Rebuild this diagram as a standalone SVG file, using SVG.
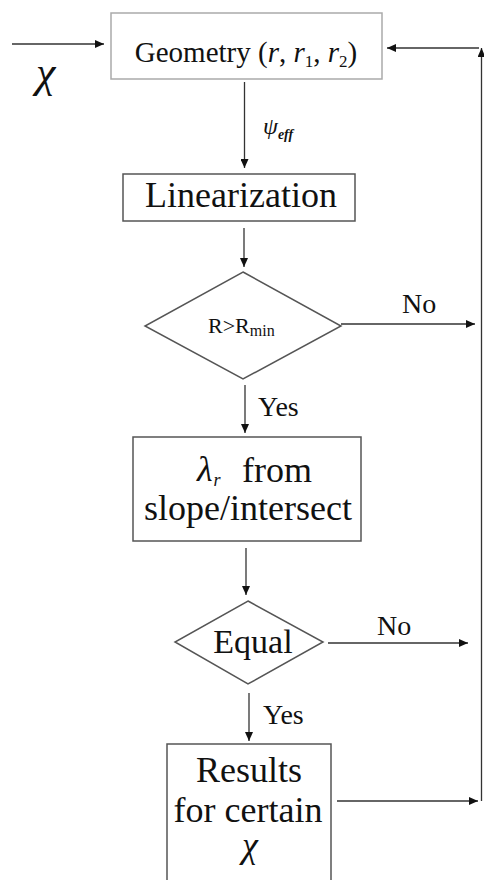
<svg xmlns="http://www.w3.org/2000/svg" width="484" height="880" viewBox="0 0 484 880" font-family="'Liberation Serif', 'DejaVu Serif', serif">
<defs>
<marker id="ah" markerUnits="userSpaceOnUse" markerWidth="10" markerHeight="8" refX="9" refY="4" orient="auto">
<path d="M0,0 L9,4 L0,8 z" fill="#111"/>
</marker>
<style>
text{font-family:'Liberation Serif','DejaVu Serif',serif;fill:#111}
.i{font-style:italic}
.box{fill:#fff;stroke:#555;stroke-width:1.5}
.gbox{fill:#fff;stroke:#aaa;stroke-width:1.5}
.ar{stroke:#333;stroke-width:1.3;fill:none;marker-end:url(#ah)}
</style>
</defs>
<rect width="484" height="880" fill="#fff"/>
<g id="connectors">
<line class="ar" x1="12" y1="44" x2="104" y2="44"/>
<line class="ar" x1="244.5" y1="82" x2="244.5" y2="168"/>
<line class="ar" x1="244" y1="228" x2="244" y2="267"/>
<line class="ar" x1="245" y1="385" x2="245" y2="433"/>
<line class="ar" x1="341" y1="324" x2="475" y2="324"/>
<line class="ar" x1="246" y1="548" x2="246" y2="595"/>
<line class="ar" x1="328" y1="643" x2="468" y2="643"/>
<line class="ar" x1="249" y1="693" x2="249" y2="741"/>
<line class="ar" x1="337" y1="801" x2="478" y2="801"/>
<line class="ar" x1="481.5" y1="801" x2="481.5" y2="48"/>
<line class="ar" x1="479" y1="48" x2="387" y2="48"/>
<text class="i" x="36" y="87" font-size="44">χ</text>
<text class="i" x="263" y="134" font-size="24">ψ<tspan font-size="14" font-weight="bold" dy="5">eff</tspan></text>
<text x="402" y="313" font-size="28">No</text>
<text x="258" y="416" font-size="28">Yes</text>
<text x="377" y="635" font-size="28">No</text>
<text x="263" y="724" font-size="28">Yes</text>
</g>
<g id="geometry">
<rect class="gbox" x="111" y="13" width="271" height="66"/>
<text x="246" y="62" font-size="29" text-anchor="middle">Geometry (<tspan class="i">r</tspan>, <tspan class="i">r</tspan><tspan font-size="17" dy="5">1</tspan><tspan dy="-5">, </tspan><tspan class="i">r</tspan><tspan font-size="17" dy="5">2</tspan><tspan dy="-5">)</tspan></text>
</g>
<g id="linearization">
<rect class="box" x="123" y="174" width="232" height="47"/>
<text x="241" y="207" font-size="36" text-anchor="middle">Linearization</text>
</g>
<g id="decision-r">
<polygon class="box" points="243,272 341,326 243,379 145,326"/>
<text x="208" y="333" font-size="22">R&gt;R<tspan font-size="16" dy="3">min</tspan></text>
</g>
<g id="lambda">
<rect class="box" x="133" y="437" width="228" height="104"/>
<text class="i" x="197" y="481" font-size="36">λ<tspan font-size="18" dx="1" dy="5">r</tspan></text>
<text x="242" y="482" font-size="36">from</text>
<text x="248" y="520" font-size="36" text-anchor="middle">slope/intersect</text>
</g>
<g id="decision-equal">
<polygon class="box" points="248,601 323,642 248,684 175,642"/>
<text x="253" y="653" font-size="34" text-anchor="middle">Equal</text>
</g>
<g id="results">
<rect class="box" x="167" y="744" width="164" height="145"/>
<text x="249" y="782" font-size="36" text-anchor="middle">Results</text>
<text x="248" y="822" font-size="36" text-anchor="middle">for certain<tspan class="i" x="250" y="857">χ</tspan></text>
</g>
</svg>
